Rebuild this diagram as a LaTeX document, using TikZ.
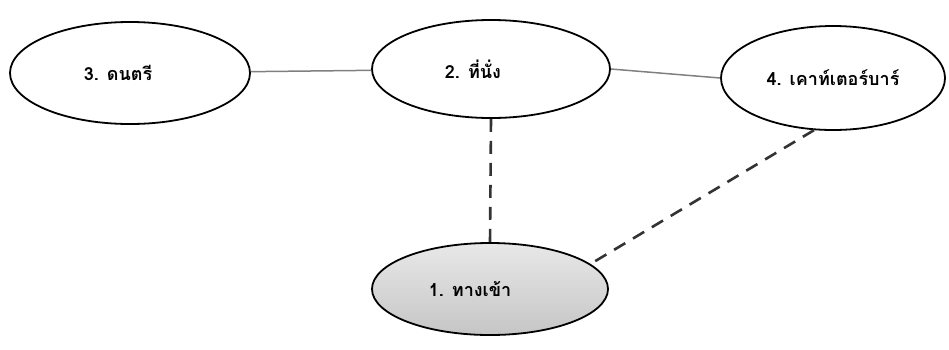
\documentclass[tikz,border=0pt]{standalone}
\usepackage{fontspec}
\newfontfamily\thaifont[Script=Thai]{Loma}
\usetikzlibrary{shapes.geometric}
\begin{document}
\begin{tikzpicture}[x=1pt,y=-1pt,
  oval/.style={ellipse, draw=black, line width=1.8pt, inner sep=0pt, font=\thaifont\bfseries\fontsize{18}{22}\selectfont},
  solidlink/.style={draw=gray, line width=1.5pt},
  dashlink/.style={draw=black!80, line width=2.6pt, dash pattern=on 13pt off 9pt}]
\useasboundingbox (0,0) rectangle (949,349);
\node[oval, minimum width=240pt, minimum height=102pt, fill=white] (n3) at (130,73) {3. ดนตรี\kern 24pt};
\node[oval, minimum width=238pt, minimum height=98pt, fill=white] (n2) at (491,69) {2. ที่นั่ง\kern 36pt};
\node[oval, minimum width=224pt, minimum height=104pt, fill=white] (n4) at (833,78) {4. เคาท์เตอร์บาร์};
\node[oval, minimum width=236pt, minimum height=92pt, top color=gray!18, bottom color=gray!45] (n1) at (490,289) {1. ทางเข้า\kern 40pt};
\draw[solidlink] (n3) -- (n2);
\draw[solidlink] (n2.east) -- (n4.west);
\draw[dashlink] (n2.south) -- (n1.north);
\draw[dashlink] (n4.250) -- (n1.14);
\end{tikzpicture}
\end{document}
